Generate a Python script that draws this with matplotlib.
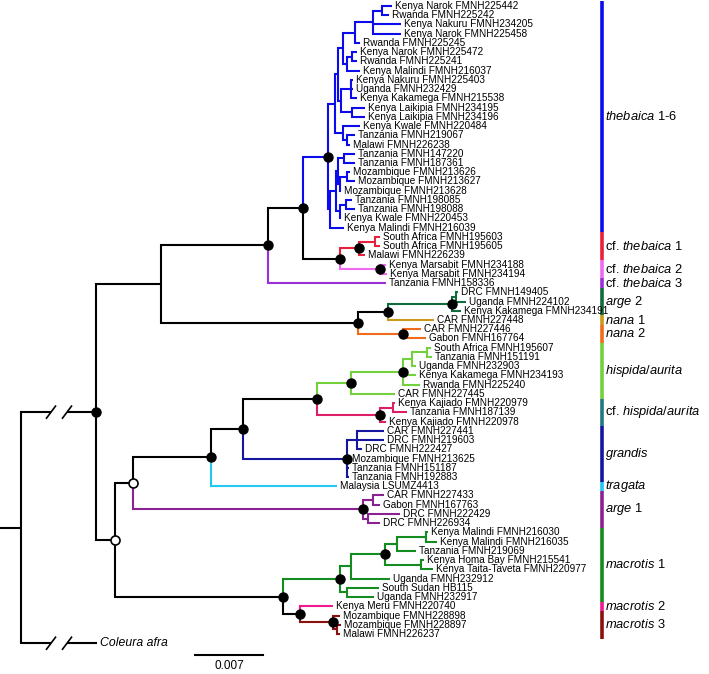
import matplotlib
matplotlib.use("Agg")
import matplotlib.pyplot as plt

plt.rcParams.update({
    "font.family": ["Liberation Sans", "DejaVu Sans"],
    "mathtext.fontset": "custom",
    "mathtext.rm": "Liberation Sans",
    "mathtext.it": "Liberation Sans:italic",
})

# tree topology + branch lengths (display units, 68 units = 0.007 subst./site)
TREE_NEWICK = (
    "(((((("
    "((((((Kenya Narok FMNH225442:10,Rwanda FMNH225242:7):9,Kenya Nakuru FMNH234205:28,Kenya Narok FMNH225458:28):18,"
    "Rwanda FMNH225245:5):12,((Kenya Narok FMNH225472:5,Rwanda FMNH225241:5):5,Kenya Malindi FMNH216037:13):4):5,"
    "((Kenya Nakuru FMNH225403:2,Uganda FMNH232429:2,Kenya Kakamega FMNH215538:6):10,"
    "(Kenya Laikipia FMNH234195:13,Kenya Laikipia FMNH234196:13):11):3):3,"
    "(Kenya Kwale FMNH220484:17,(Tanzania FMNH219067:8,Malawi FMNH226238:3):4):8):7,"
    "((((Tanzania FMNH147220:11,Tanzania FMNH187361:11):6,"
    "((Mozambique FMNH213626:3,Mozambique FMNH213627:8):7,Mozambique FMNH213628:1):2):2,"
    "((Tanzania FMNH198085:6,Tanzania FMNH198088:9):6,Kenya Kwale FMNH220453:1):4):6,"
    "Kenya Malindi FMNH216039:14):2)thebaica:25,"
    "(((South Africa FMNH195603:5,South Africa FMNH195605:5):16,Malawi FMNH226239:6)cf_thebaica_1:19,"
    "(Kenya Marsabit FMNH234188:6,Kenya Marsabit FMNH234194:7)cf_thebaica_2:40)CF:37"
    ")C:35,Tanzania FMNH158336:118)B:107,"
    "((((DRC FMNH149405:2,Uganda FMNH224102:10):4,Kenya Kakamega FMNH234191:9)arge_2:64,CAR FMNH227448:46)AG:30,"
    "(CAR FMNH227446:18,Gabon FMNH167764:23)nana_2:45)AN:197"
    ")A:65,"
    "(((((("
    "(((South Africa FMNH195607:4,Tanzania FMNH151191:5):15,Uganda FMNH232903:4):9,"
    "Kenya Kakamega FMNH234193:13,Rwanda FMNH225240:17)H2:52,CAR FMNH227445:44)hispida:34,"
    "((Kenya Kajiado FMNH220979:2,Tanzania FMNH187139:14):13,Kenya Kajiado FMNH220978:6)cf_hispida:63)Q3:74,"
    "((CAR FMNH227441:27,DRC FMNH219603:27,DRC FMNH222427:5):10,Mozambique FMNH213625:2,"
    "Tanzania FMNH151187:2,Tanzania FMNH192883:2)grandis:104)Q2:32,"
    "Malaysia LSUMZ4413:126)Q1:78,"
    "((CAR FMNH227433:11,Gabon FMNH167763:7):10,(DRC FMNH222429:32,DRC FMNH226934:12):5)arge_1:230)O2:18,"
    "((((((Kenya Malindi FMNH216030:2,Kenya Malindi FMNH216035:11):29,Tanzania FMNH219069:19):12,"
    "(Kenya Homa Bay FMNH215541:3,Kenya Taita-Taveta FMNH220977:12):36)M1c:34,Uganda FMNH232912:39):11,"
    "(South Sudan HB115:32,Uganda FMNH232917:27):7)macrotis_1:57,"
    "(Kenya Meru FMNH220740:33,(Mozambique FMNH228898:7,(Mozambique FMNH228897:4,Malawi FMNH226237:3):4)macrotis_3:33)M23:17"
    ")MA:168)O1:19"
    ")IG:75,Coleura afra:76);"
)

BRANCH_COLORS = {
    "thebaica": "#0b0bec",
    "cf_thebaica_1": "#e8203c",
    "cf_thebaica_2": "#ee6aee",
    "Tanzania FMNH158336": "#9b30d9",
    "arge_2": "#116b3c",
    "CAR FMNH227448": "#cc9a1a",
    "nana_2": "#f26b1d",
    "hispida": "#73d13d",
    "cf_hispida": "#dc1f66",
    "grandis": "#1515a0",
    "Malaysia LSUMZ4413": "#22c8f0",
    "arge_1": "#8b2291",
    "macrotis_1": "#158c1f",
    "Kenya Meru FMNH220740": "#f01890",
    "macrotis_3": "#8b1010",
}

FILLED_NODES = ["IG", "B", "C", "thebaica", "CF", "cf_thebaica_1", "cf_thebaica_2", "AN", "AG",
                "arge_2", "nana_2", "Q1", "Q2", "Q3", "hispida", "H2", "cf_hispida", "grandis",
                "arge_1", "MA", "macrotis_1", "M1c", "M23", "macrotis_3"]
OPEN_NODES = ["O1", "O2"]

CLADE_KEYS = ["thebaica", "cf_thebaica_1", "cf_thebaica_2", "Tanzania FMNH158336", "arge_2",
              "CAR FMNH227448", "nana_2", "hispida", "cf_hispida", "grandis", "Malaysia LSUMZ4413",
              "arge_1", "macrotis_1", "Kenya Meru FMNH220740", "macrotis_3"]
CLADE_LABELS = [r"$\mathit{thebaica}$ 1-6", r"cf. $\mathit{thebaica}$ 1", r"cf. $\mathit{thebaica}$ 2",
                r"cf. $\mathit{thebaica}$ 3", r"$\mathit{arge}$ 2", r"$\mathit{nana}$ 1", r"$\mathit{nana}$ 2",
                r"$\mathit{hispida/aurita}$", r"cf. $\mathit{hispida/aurita}$", r"$\mathit{grandis}$",
                r"$\mathit{tragata}$", r"$\mathit{arge}$ 1", r"$\mathit{macrotis}$ 1",
                r"$\mathit{macrotis}$ 2", r"$\mathit{macrotis}$ 3"]
CLADE_BAR_COLORS = ["#0b0bec", "#e8203c", "#ee6aee", "#9b30d9", "#116b3c", "#cc9a1a", "#f26b1d",
                    "#73d13d", "#1f7a80", "#1515a0", "#22c8f0", "#8b2291", "#158c1f", "#f01890", "#8b1010"]

ITALIC_LEAVES = ["Coleura afra"]
BROKEN_BRANCHES = ["IG", "Coleura afra"]
SCALE_LENGTH = 68
SCALE_LABEL = "0.007"

ROOT_X = 21
BREAK_X = (51, 67)
BAR_X = 601.5
LABEL_X = 605
LW = 1.5


def parse_newick(text):
    pos = 0

    def read_node():
        nonlocal pos
        children = []
        if text[pos] == "(":
            pos += 1
            children.append(read_node())
            while text[pos] == ",":
                pos += 1
                children.append(read_node())
            pos += 1
        start = pos
        while text[pos] not in ",():;":
            pos += 1
        name = text[start:pos].strip()
        length = 0.0
        if text[pos] == ":":
            pos += 1
            start = pos
            while text[pos] not in ",();":
                pos += 1
            length = float(text[start:pos])
        return {"name": name, "length": length, "children": children}

    return read_node()


def layout(node, parent_x, parent_color, leaves):
    node["x"] = parent_x + node["length"]
    node["color"] = BRANCH_COLORS.get(node["name"], parent_color)
    if node["children"]:
        for child in node["children"]:
            layout(child, node["x"], node["color"], leaves)
        node["y"] = (node["children"][0]["y"] + node["children"][-1]["y"]) / 2
        node["leaf_ids"] = [i for c in node["children"] for i in c["leaf_ids"]]
    else:
        node["y"] = len(leaves)
        node["leaf_ids"] = [len(leaves)]
        leaves.append(node)


def walk(node, parent=None):
    yield node, parent
    for child in node["children"]:
        yield from walk(child, node)


root = parse_newick(TREE_NEWICK)
leaves = []
layout(root, ROOT_X, "black", leaves)
nodes = {n["name"]: n for n, _ in walk(root) if n["name"]}

fig = plt.figure(figsize=(7.09, 6.74), dpi=100)
ax = fig.add_axes([0, 0, 1, 1])
ax.set_xlim(0, 709)
ax.set_ylim(72.33, -0.65)
ax.axis("off")

ax.plot([0, root["x"]], [root["y"], root["y"]], color="black", lw=LW, solid_capstyle="butt")

for node, parent in walk(root):
    if parent is None:
        continue
    px, py, x, y = parent["x"], parent["y"], node["x"], node["y"]
    style = dict(color=node["color"], lw=LW, solid_capstyle="butt", solid_joinstyle="miter")
    if node["name"] in BROKEN_BRANCHES:
        ax.plot([px, px, BREAK_X[0]], [py, y, y], **style)
        ax.plot([BREAK_X[1], x], [y, y], **style)
        for bx in BREAK_X:
            ax.plot([bx - 4.5, bx + 4.5], [y + 0.65, y - 0.65], color="black", lw=1.2)
    else:
        ax.plot([px, px, x], [py, y, y], **style)

for leaf in leaves:
    italic = leaf["name"] in ITALIC_LEAVES
    ax.text(leaf["x"] + 3, leaf["y"], leaf["name"], va="center", ha="left",
            fontsize=8.8 if italic else 7.2, style="italic" if italic else "normal")

for name in FILLED_NODES:
    ax.plot(nodes[name]["x"], nodes[name]["y"], "o", ms=6.5, color="black", zorder=5)
for name in OPEN_NODES:
    ax.plot(nodes[name]["x"], nodes[name]["y"], "o", ms=6.5, mfc="white", mec="black", mew=1.2, zorder=5)

for key, label, color in zip(CLADE_KEYS, CLADE_LABELS, CLADE_BAR_COLORS):
    ids = nodes[key]["leaf_ids"]
    y0, y1 = min(ids) - 0.5, max(ids) + 0.5
    ax.plot([BAR_X, BAR_X], [y0, y1], color=color, lw=2.6, solid_capstyle="butt")
    ax.text(LABEL_X, (y0 + y1) / 2, label, va="center", ha="left", fontsize=9.3)

ax.plot([195, 195 + SCALE_LENGTH], [70.3, 70.3], color="black", lw=LW)
ax.text(195 + SCALE_LENGTH / 2, 71.45, SCALE_LABEL, ha="center", va="center", fontsize=8.5)

fig.savefig("out.png", dpi=100)
